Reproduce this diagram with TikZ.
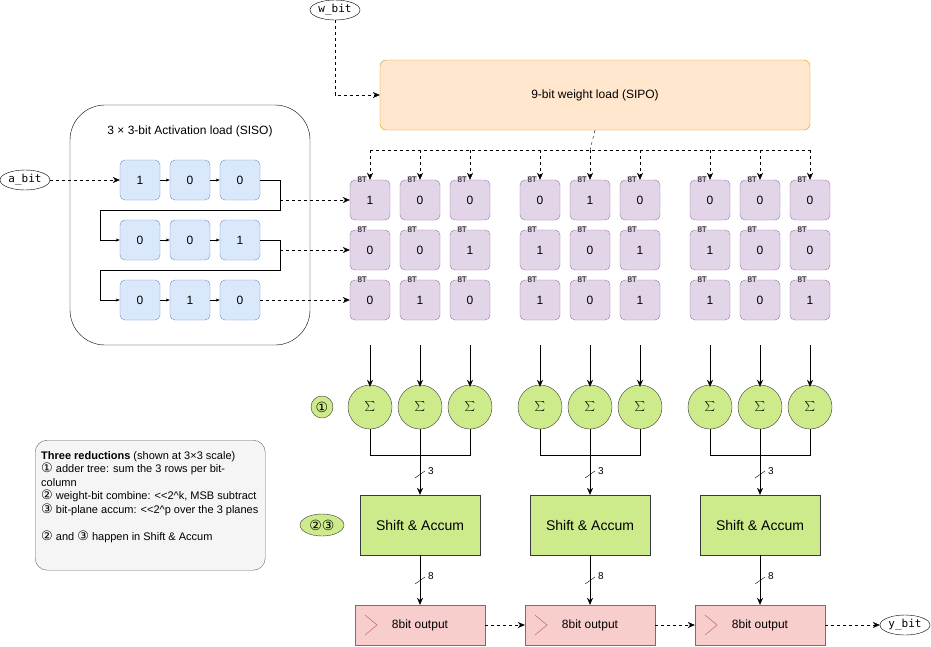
\documentclass[tikz,border=0pt]{standalone}
\usepackage{fontspec}
\setmainfont{Liberation Sans}
\setmonofont{DejaVu Sans Mono}
\newfontfamily\sym{DejaVu Sans}
\usetikzlibrary{arrows.meta,shapes.geometric}
\definecolor{purf}{HTML}{E1D5E7}\definecolor{purs}{HTML}{9673A6}
\definecolor{bluf}{HTML}{DAE8FC}\definecolor{blus}{HTML}{6C8EBF}
\definecolor{grnf}{HTML}{CDEB8B}\definecolor{grns}{HTML}{36393D}
\definecolor{redf}{HTML}{F8CECC}\definecolor{reds}{HTML}{B85450}
\definecolor{orf}{HTML}{FFE6CC}\definecolor{ors}{HTML}{D79B00}
\begin{document}
\begin{tikzpicture}[x=1pt,y=-1pt,font=\fontsize{12}{14}\selectfont,
 cell/.style={draw=purs,fill=purf,rounded corners=5,minimum width=40,minimum height=40,inner sep=0,font=\fontsize{12}{14}\selectfont},
 acell/.style={draw=blus,fill=bluf,rounded corners=5,minimum width=40,minimum height=40,inner sep=0},
 tag/.style={fill=purf,inner sep=0.5,font=\fontsize{8}{8}\selectfont},
 sig/.style={circle,draw=grns,fill=grnf,minimum size=44,inner sep=0,font=\fontsize{22}{22}\selectfont},
 sa/.style={draw=grns,fill=grnf,minimum width=120,minimum height=60,inner sep=0,font=\fontsize{14}{16}\selectfont},
 outb/.style={draw=reds,fill=redf,minimum width=130,minimum height=40,inner sep=0},
 term/.style={ellipse,draw,minimum width=50,minimum height=20,inner sep=0,font=\ttfamily\fontsize{11}{12}\selectfont},
 darr/.style={dashed,-{Stealth[length=7,width=6]}},
 sol/.style={-{Stealth[length=7,width=6]}},
 small/.style={-{Stealth[length=4,width=3]}}]
\useasboundingbox (0,0) rectangle (931,646);
% terminals
\node[term] (wbit) at (335,10) {w\_bit};
\node[term] (abit) at (25,180) {a\_bit};
\node[term] (ybit) at (905,625) {y\_bit};
% weight load
\node[draw=ors,fill=orf,rounded corners=6,minimum width=430,minimum height=70,inner sep=0] (wl) at (595,95) {9-bit weight load (SIPO)};
\draw[darr] (wbit.south) |- (wl.west);
% activation box
\draw[rounded corners=35] (70,105) rectangle (310,345);
\node (atitle) at (190,131) {3 × 3-bit Activation load (SISO)};
\foreach \r/\y/\va/\vb/\vc in {0/180/1/0/0,1/240/0/0/1,2/300/0/1/0}{
 \node[acell] (a\r0) at (140,\y) {\va};
 \node[acell] (a\r1) at (190,\y) {\vb};
 \node[acell] (a\r2) at (240,\y) {\vc};
 \draw[small] (a\r0) -- (a\r1);
 \draw[small] (a\r1) -- (a\r2);
}
\draw[darr] (abit) -- (a00);
\draw[small] (a02.east) -- (280,180) -- (280,210) -- (100,210) |- (a10.west);
\draw[small] (a12.east) -- (280,240) -- (280,270) -- (100,270) |- (a20.west);
\coordinate (r0) at (280,200);
\coordinate (r1) at (280,250);
\coordinate (r2) at (a22.east);
% cells
\coordinate (wb) at (590,150);
\draw[dashed] (wl.south) -- (wb);
\draw[dashed] (370,150) -- (810,150);
\foreach \g/\gx/\vals in {0/370/{1,0,0,0,0,1,0,1,0},1/540/{0,1,0,1,0,1,1,0,1},2/710/{0,0,0,1,0,0,1,0,1}}{
 \foreach \v [count=\i from 0] in \vals {
  \pgfmathtruncatemacro\row{int(\i/3)}
  \pgfmathtruncatemacro\col{mod(\i,3)}
  \node[cell] (c\g\row\col) at ({\gx+50*\col},{200+50*\row}) {\v};
  \node[tag,anchor=west] at ([xshift=7]c\g\row\col.north west) {8T};
 }
 \foreach \col in {0,1,2}{
  \coordinate (t\g\col) at ({\gx+50*\col},150);
  \draw[darr] (t\g\col) -- (c\g0\col.north);
  \coordinate (d\g\col) at ({\gx+50*\col},345);
  \node[sig] (s\g\col) at ({\gx+50*\col},407) {$\sum$};
  \draw[sol] (d\g\col) -- ([yshift=-2]s\g\col.north);
 }
 \coordinate (j\g) at ({\gx+50},455);
 \draw (s\g0.south) |- (s\g2.south |- j\g) -- (s\g2.south);
 \draw (s\g1.south) -- (j\g);
 \node[sa] (sa\g) at ({\gx+50},525) {Shift \& Accum};
 \draw[sol] (j\g) -- (sa\g.north);
 \draw ({\gx+45},478) -- ({\gx+55},471);
 \node[font=\fontsize{10}{10}\selectfont] at ({\gx+61},471) {3};
 \node[outb] (o\g) at ({\gx+50},625) {8bit output};
 \draw[draw=reds] ({\gx-5},615) -- ({\gx+7},625) -- ({\gx-5},635);
 \draw[sol] (sa\g.south) -- (o\g.north);
 \draw ({\gx+45},584) -- ({\gx+55},577);
 \node[font=\fontsize{10}{10}\selectfont] at ({\gx+61},576) {8};
}
\draw[darr] (r0) -- (c000.west);
\draw[darr] (r1) -- (c010.west);
\draw[darr] (r2) -- (c020.west);
\draw[darr] (o0) -- (o1);
\draw[darr] (o1) -- (o2);
\draw[darr] (o2) -- (ybit);
% markers
\node[circle,draw=grns,fill=grnf,minimum size=22,inner sep=0,font=\sym\fontsize{14}{14}\selectfont] (m1) at (322,407) {①};
\node[ellipse,draw=grns,fill=grnf,minimum width=44,minimum height=22,inner sep=0,font=\sym\fontsize{14}{14}\selectfont] (m23) at (322,525) {②③};
% legend
\node[draw=black!60,fill=black!4,rounded corners=12,minimum width=230,minimum height=130,anchor=north west] (leg) at (35,440) {};
\node[anchor=north west,align=left,font=\fontsize{11}{13.5}\selectfont,inner sep=0] (legt) at (41,451) {\textbf{Three reductions} (shown at 3×3 scale)\\
{\sym\fontsize{13}{13}\selectfont①} adder tree: sum the 3 rows per bit-\\column\\
{\sym\fontsize{13}{13}\selectfont②} weight-bit combine: <{}<2\^{}k, MSB subtract\\
{\sym\fontsize{13}{13}\selectfont③} bit-plane accum: <{}<2\^{}p over the 3 planes\\[13.5pt]
{\sym\fontsize{13}{13}\selectfont②} and {\sym\fontsize{13}{13}\selectfont③} happen in Shift \& Accum};
\end{tikzpicture}
\end{document}
